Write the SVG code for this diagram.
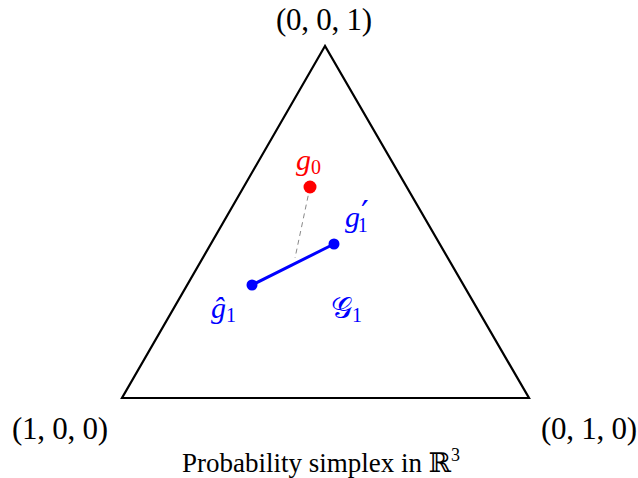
<svg xmlns="http://www.w3.org/2000/svg" width="638" height="478" viewBox="0 0 638 478">
<style>
.t{font-family:"Liberation Serif","DejaVu Serif",serif;font-size:31px;fill:#000}
.m{font-family:"Liberation Serif","DejaVu Serif",serif;font-style:italic;font-size:30px}
.sub{font-style:normal;font-size:20px}
.cap{font-family:"Liberation Serif","DejaVu Serif",serif;font-size:27px;fill:#000}
</style>
<rect width="638" height="478" fill="#fff"/>
<g id="simplex">
<polygon points="325,46 122,398 529,398" fill="none" stroke="#000" stroke-width="2.2" stroke-linejoin="miter"/>
</g>
<g id="connectors">
<line x1="310" y1="187" x2="295" y2="258" stroke="#888" stroke-width="1" stroke-dasharray="5,4"/>
<line x1="252" y1="285" x2="334" y2="244" stroke="#0000ff" stroke-width="3"/>
</g>
<g id="g0">
<circle cx="310" cy="187" r="6.5" fill="#ff0000"/>
<text class="m" x="296" y="170" fill="#ff0000">g<tspan class="sub" dy="4">0</tspan></text>
</g>
<g id="g1prime">
<circle cx="334" cy="244" r="5.5" fill="#0000ff"/>
<text class="m" x="345" y="227" fill="#0000ff">g<tspan font-family="DejaVu Serif,serif" font-style="normal" font-size="34" dx="1" dy="-2">′</tspan><tspan class="sub" dx="-11" dy="7">1</tspan></text>
</g>
<g id="ghat1">
<circle cx="252" cy="285" r="5.5" fill="#0000ff"/>
<text class="m" x="211" y="318" fill="#0000ff">ĝ<tspan class="sub" dy="4">1</tspan></text>
</g>
<g id="G1">
<text class="m" x="331" y="318" fill="#0000ff" style="font-style:normal">𝒢<tspan class="sub" dy="4">1</tspan></text>
</g>
<g id="labels">
<text class="t" x="276" y="30" textLength="96" lengthAdjust="spacing">(0, 0, 1)</text>
<text class="t" x="12" y="439" textLength="96" lengthAdjust="spacing">(1, 0, 0)</text>
<text class="t" x="541" y="439" textLength="96" lengthAdjust="spacing">(0, 1, 0)</text>
<text class="cap" x="321" y="472" text-anchor="middle">Probability simplex in ℝ<tspan font-size="18" dy="-11">3</tspan></text>
</g>
</svg>
